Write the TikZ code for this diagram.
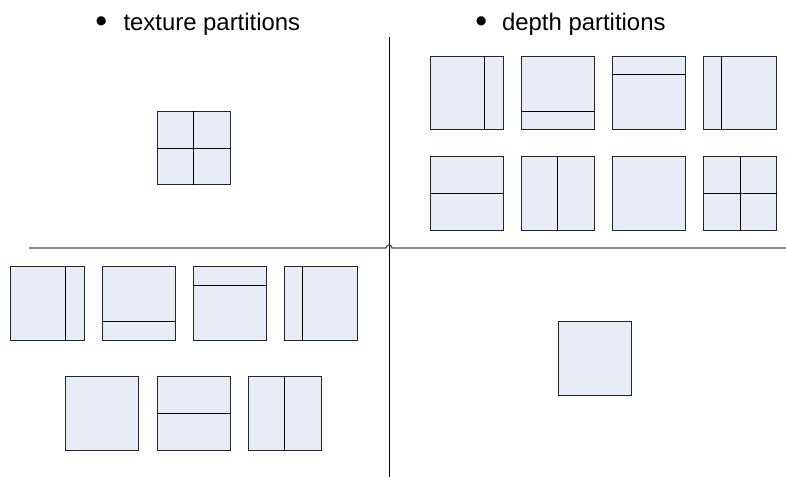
\documentclass[tikz,border=0pt]{standalone}
\usepackage{fontspec}
\setmainfont{Liberation Sans}
\usetikzlibrary{calc}
\definecolor{partfill}{RGB}{231,236,246}
\newcommand\bigbul[1]{\makebox[#1][l]{\raisebox{-0.05cm}{\fontsize{24}{20}\selectfont\textbullet}}}
\begin{document}
\begin{tikzpicture}[x=0.025cm, y=-0.025cm, line width=0.7pt, font=\fontsize{17}{20}\selectfont]
\tikzstyle{blk} = [rectangle, draw=black!85, fill=partfill, minimum size=1.825cm, inner sep=0pt, outer sep=0pt]
\tikzstyle{head} = [anchor=base west, inner sep=0pt]
\useasboundingbox (0,0) rectangle (786,477);
% headings
\node[head] (texhead) at (94.8,31) {\bigbul{0.705cm}texture partitions};
\node[head] (dephead) at (474.8,31) {\bigbul{0.67cm}depth partitions};
% quadrant axes
\coordinate (vtop) at (389,37);
\coordinate (vbot) at (389,477);
\coordinate (hl) at (29,248);
\coordinate (hr) at (786,248);
\draw (vtop) -- (vbot);
\draw [black!70, line width=0.9pt] (hl) -- ($(vtop|-hl)+(-3,0)$) arc [start angle=180, end angle=0, radius=2.1pt] -- (hr);
% upper left
\node[blk] (tex0) at (193.5,148) {};
% upper right
\node[blk] (dep1) at (466.5,93) {};
\node[blk] (dep2) at (557.5,93) {};
\node[blk] (dep3) at (649,93) {};
\node[blk] (dep4) at (740,93) {};
\node[blk] (dep5) at (466.5,193.5) {};
\node[blk] (dep6) at (557.5,193.5) {};
\node[blk] (dep7) at (649,193.5) {};
\node[blk] (dep8) at (740,193.5) {};
% lower left
\node[blk] (tex1) at (47.5,303.5) {};
\node[blk] (tex2) at (138.5,303.5) {};
\node[blk] (tex3) at (229.5,303.5) {};
\node[blk] (tex4) at (320.5,303.5) {};
\node[blk] (tex5) at (102,413.5) {};
\node[blk] (tex6) at (193.5,413.5) {};
\node[blk] (tex7) at (284.5,413.5) {};
% lower right
\node[blk] (dep0) at (594.5,358.5) {};
% splits
\foreach \n/\f in {tex0/0.5, dep1/0.75, dep4/0.25, dep6/0.5, dep8/0.5, tex1/0.75, tex4/0.25, tex7/0.5}
  \draw ($(\n.north west)!\f!(\n.north east)$) -- ($(\n.south west)!\f!(\n.south east)$);
\foreach \n/\f in {tex0/0.5, dep2/0.75, dep3/0.25, dep5/0.5, dep8/0.5, tex2/0.75, tex3/0.25, tex6/0.5}
  \draw ($(\n.north west)!\f!(\n.south west)$) -- ($(\n.north east)!\f!(\n.south east)$);
\end{tikzpicture}
\end{document}
